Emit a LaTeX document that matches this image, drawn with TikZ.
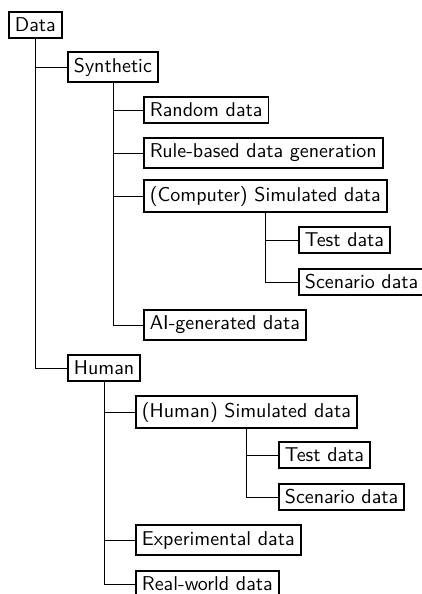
\documentclass[tikz,border=0pt]{standalone}
\usepackage{tikz}

\tikzset{
  databox/.style={draw, line width=0.9pt, font=\sffamily, anchor=west, inner sep=3pt},
  branch/.style={draw, thin}
}

\begin{document}
\begin{tikzpicture}[x=0.5pt, y=-0.5pt]

  \useasboundingbox (0,0) rectangle (422,594);

  % top level
  \node[databox] (data) at (8,25) {Data};

  % synthetic branch
  \node[databox] (synth) at (67,67) {Synthetic};
  \node[databox] (rand) at (143,110) {Random data};
  \node[databox] (rule) at (143,153) {Rule-based data generation};
  \node[databox] (csim) at (143,196) {(Computer) Simulated data};
  \node[databox] (ctest) at (298,240) {Test data};
  \node[databox] (cscen) at (298,282) {Scenario data};
  \node[databox] (aigen) at (143,325) {AI-generated data};

  % human branch
  \node[databox] (human) at (67,368) {Human};
  \node[databox] (hsim) at (135,412) {(Human) Simulated data};
  \node[databox] (htest) at (278,455) {Test data};
  \node[databox] (hscen) at (278,497) {Scenario data};
  \node[databox] (expdata) at (135,540) {Experimental data};
  \node[databox] (realw) at (135,584) {Real-world data};

  % connectors
  \draw[branch] (data.south) |- (synth.west);
  \draw[branch] (data.south) |- (human.west);

  \draw[branch] (synth.south) |- (rand.west);
  \draw[branch] (synth.south) |- (rule.west);
  \draw[branch] (synth.south) |- (csim.west);
  \draw[branch] (synth.south) |- (aigen.west);
  \draw[branch] (csim.south) |- (ctest.west);
  \draw[branch] (csim.south) |- (cscen.west);

  \draw[branch] (human.south) |- (hsim.west);
  \draw[branch] (human.south) |- (expdata.west);
  \draw[branch] (human.south) |- (realw.west);
  \draw[branch] (hsim.south) |- (htest.west);
  \draw[branch] (hsim.south) |- (hscen.west);

\end{tikzpicture}
\end{document}
